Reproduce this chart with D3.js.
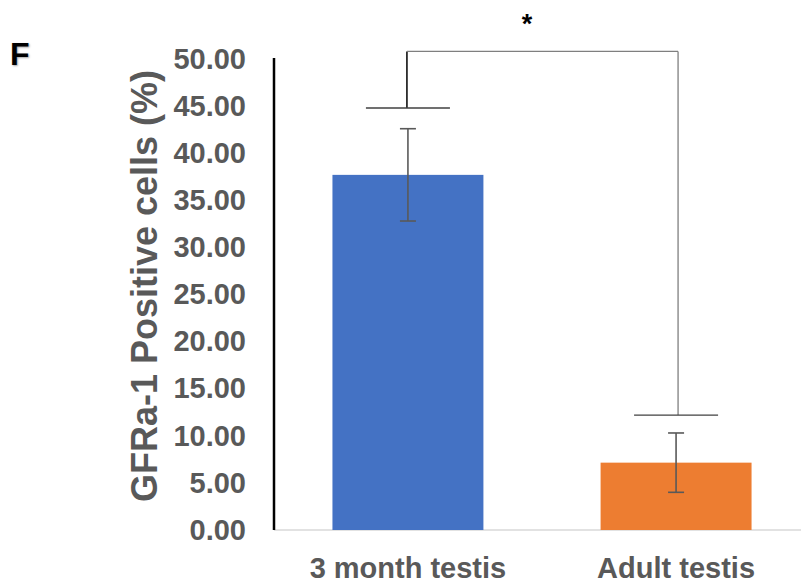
<!DOCTYPE html>
<html>
<head>
<meta charset="utf-8">
<script src="https://cdn.jsdelivr.net/npm/d3@7"></script>
<style>
  body { margin: 0; background: #fff; }
  text { font-family: "Liberation Sans", Arial, sans-serif; font-weight: bold; }
</style>
</head>
<body>
<div id="chart"></div>
<script>
// data
const categories = ["3 month testis", "Adult testis"];
const means = [37.7, 7.15];
const errors = [4.9, 3.15];
const colors = ["#4472C4", "#ED7D31"];
const yTicks = [0, 5, 10, 15, 20, 25, 30, 35, 40, 45, 50];
// significance bracket: cap level above each bar, and top of bracket
const bracketCaps = [44.8, 12.2];
const bracketTop = 50.8;
const sigLabel = "*";

const W = 801, H = 587;

const svg = d3.select("#chart")
  .append("svg")
  .attr("width", W)
  .attr("height", H);

const x = d3.scaleBand()
  .domain(categories)
  .range([274, 810])
  .paddingInner(0.437)
  .paddingOuter(0.218);

const y = d3.scaleLinear()
  .domain([0, 50])
  .range([530, 59]);

// baseline
svg.append("line")
  .attr("x1", 274).attr("x2", W)
  .attr("y1", y(0)).attr("y2", y(0))
  .attr("stroke", "#d9d9d9")
  .attr("stroke-width", 1.5);

// bars
svg.selectAll(".bar")
  .data(categories)
  .enter()
  .append("rect")
  .attr("class", "bar")
  .attr("x", d => x(d))
  .attr("width", x.bandwidth())
  .attr("y", (d, i) => y(means[i]))
  .attr("height", (d, i) => y(0) - y(means[i]))
  .attr("fill", (d, i) => colors[i]);

// error bars
const cx = d => x(d) + x.bandwidth() / 2;
const err = svg.selectAll(".err")
  .data(categories)
  .enter()
  .append("g")
  .attr("class", "err")
  .attr("stroke", "#595959")
  .attr("stroke-width", 1.6);

err.append("line")
  .attr("x1", cx).attr("x2", cx)
  .attr("y1", (d, i) => y(means[i] + errors[i]))
  .attr("y2", (d, i) => y(means[i] - errors[i]));
[1, -1].forEach(s => {
  err.append("line")
    .attr("x1", d => cx(d) - 8).attr("x2", d => cx(d) + 8)
    .attr("y1", (d, i) => y(means[i] + s * errors[i]))
    .attr("y2", (d, i) => y(means[i] + s * errors[i]));
});

// significance bracket
const bx0 = cx(categories[0]), bx1 = cx(categories[1]);
svg.append("line")
  .attr("x1", bx0 - 1).attr("x2", bx0 - 1)
  .attr("y1", y(bracketTop)).attr("y2", y(bracketCaps[0]))
  .attr("stroke", "#000").attr("stroke-width", 1.5);
svg.append("line")
  .attr("x1", bx0 - 1).attr("x2", bx1 + 2)
  .attr("y1", y(bracketTop)).attr("y2", y(bracketTop))
  .attr("stroke", "#7f7f7f").attr("stroke-width", 1.3);
svg.append("line")
  .attr("x1", bx1 + 2).attr("x2", bx1 + 2)
  .attr("y1", y(bracketTop)).attr("y2", y(bracketCaps[1]))
  .attr("stroke", "#7f7f7f").attr("stroke-width", 1.3);
svg.selectAll(".cap")
  .data(categories)
  .enter()
  .append("line")
  .attr("class", "cap")
  .attr("x1", d => cx(d) - 42).attr("x2", d => cx(d) + 42)
  .attr("y1", (d, i) => y(bracketCaps[i]))
  .attr("y2", (d, i) => y(bracketCaps[i]))
  .attr("stroke", "#404040").attr("stroke-width", 1.3);

svg.append("text")
  .attr("x", (bx0 + bx1) / 2 - 15)
  .attr("y", 33)
  .attr("text-anchor", "middle")
  .attr("font-size", 27)
  .attr("font-weight", "normal")
  .attr("fill", "#000")
  .text(sigLabel);

// y axis
const yAxis = svg.append("g")
  .attr("transform", "translate(274,0)")
  .call(d3.axisLeft(y).tickValues(yTicks).tickFormat(d3.format(".2f")).tickSize(0).tickPadding(28));
yAxis.select(".domain")
  .attr("stroke", "#000")
  .attr("stroke-width", 2.5)
  .attr("d", `M0,${y(50) - 1}V${y(0)}`);
yAxis.selectAll("text")
  .attr("font-size", 29)
  .attr("font-family", "Liberation Sans, Arial, sans-serif")
  .attr("font-weight", "bold")
  .attr("fill", "#595959");

// x labels
svg.selectAll(".xlab")
  .data(categories)
  .enter()
  .append("text")
  .attr("class", "xlab")
  .attr("x", cx)
  .attr("y", 578)
  .attr("text-anchor", "middle")
  .attr("font-size", 29)
  .attr("fill", "#595959")
  .text(d => d);

// y title
svg.append("text")
  .attr("transform", "translate(157,286) rotate(-90)")
  .attr("text-anchor", "middle")
  .attr("font-size", 36)
  .attr("fill", "#595959")
  .text("GFRa-1 Positive cells (%)");

// panel letter
svg.append("text")
  .attr("x", 10)
  .attr("y", 65)
  .attr("font-size", 32)
  .attr("fill", "#000")
  .style("text-shadow", "1px 1px 2px rgba(0,0,0,0.35)")
  .text("F");
</script>
</body>
</html>
